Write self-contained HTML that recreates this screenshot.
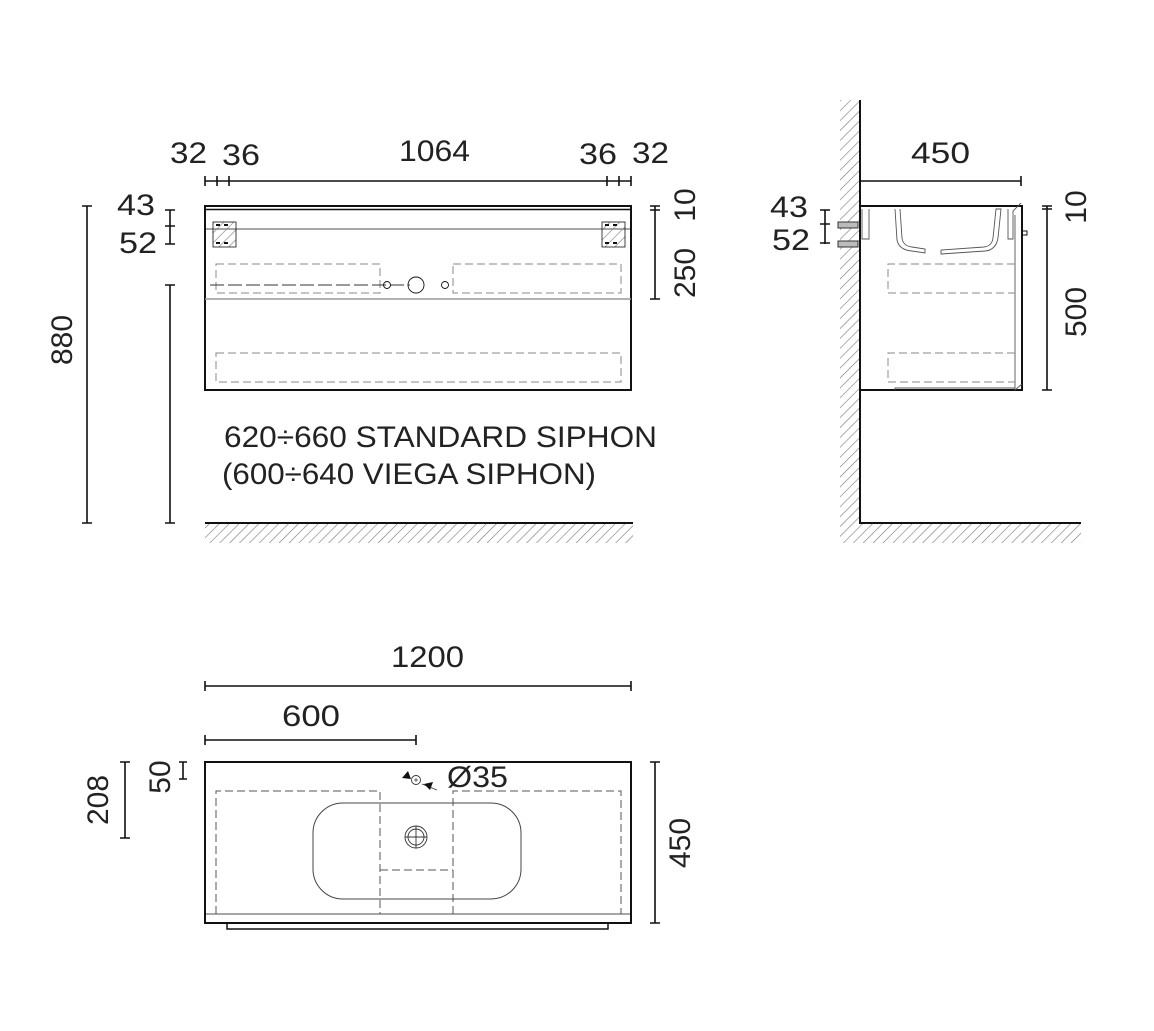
<!DOCTYPE html>
<html><head><meta charset="utf-8"><style>
html,body{margin:0;padding:0;background:#fff;width:1154px;height:1031px;overflow:hidden}
text{font-family:"Liberation Sans",sans-serif;font-size:30px;fill:#222}
</style></head><body>
<svg width="1154" height="1031" viewBox="0 0 1154 1031" xmlns="http://www.w3.org/2000/svg">
<defs>
<pattern id="h" width="7" height="7" patternUnits="userSpaceOnUse" patternTransform="rotate(45)">
<line x1="0" y1="0" x2="0" y2="7" stroke="#777" stroke-width="1.2"/>
</pattern>
</defs>
<g fill="none" stroke="#111" stroke-width="1.6">
<!-- FRONT VIEW -->
<line x1="205" y1="181" x2="631" y2="181"/>
<path d="M205 176v10M217 176v10M229 176v10M607 176v10M619 176v10M631 176v10"/>
<rect x="205" y="206" width="426" height="184" stroke-width="2"/>
<line x1="205" y1="209.5" x2="631" y2="209.5" stroke-width="1.5"/>
<line x1="205" y1="229" x2="631" y2="229" stroke-width="0.8"/>
<line x1="205" y1="299" x2="631" y2="299" stroke="#999" stroke-width="1.5"/>
<g stroke-width="0.8">
<rect x="213" y="222" width="23" height="25" fill="url(#h)"/>
<rect x="602" y="222" width="23" height="25" fill="url(#h)"/>
<path d="M216 225h4M224 225h4M216 243h4M224 243h4M605 225h4M613 225h4M605 243h4M613 243h4" stroke-width="2"/>
</g>
<g stroke="#888" stroke-width="1" stroke-dasharray="8,4">
<rect x="216" y="264" width="164" height="29"/>
<rect x="453" y="264" width="168" height="29"/>
<rect x="216" y="353" width="405" height="29"/>
<line x1="210" y1="285" x2="410" y2="285" stroke="#333" stroke-dasharray="14,4"/>
</g>
<g stroke-width="0.9">
<circle cx="387" cy="285" r="3.5"/><circle cx="416" cy="285" r="8"/><circle cx="445" cy="285" r="3.5"/>
</g>
<!-- left dims -->
<path d="M170 210v34M165 210h10M165 226h10M165 244h10"/>
<path d="M87 206v317M82 206h10M82 523h10"/>
<path d="M170 285v238M165 285h10M165 523h10"/>
<path d="M655 206v93M650 206h10M650 210h10M650 299h10"/>
<!-- floor -->
<line x1="205" y1="523" x2="633" y2="523" stroke-width="2"/>
<rect x="205" y="524" width="428" height="19" fill="url(#h)" stroke="none"/>
<!-- SIDE VIEW -->
<rect x="840" y="100" width="19" height="443" fill="url(#h)" stroke="none"/>
<rect x="859" y="524" width="222" height="19" fill="url(#h)" stroke="none"/>
<path d="M860 100v423h221" stroke-width="2"/>
<path d="M860 181h161M1021 176v10"/>
<path d="M860 206h162v184h-162" stroke-width="2"/>
<g stroke-width="0.9" stroke="#555">
<path d="M862 209v30h7v-30"/>
<path d="M895 209L897 240Q899 250 912 251L925 253L925 249L912 247Q903 246 902 238L900 209"/>
<path d="M941 254L985 251Q996 250 998 238L1001 209L996 209L993 238Q992 246 984 247L941 250Z"/>
<path d="M1008 209v30h5v-28l8-8"/>
<path d="M1015 215v175l7 -6"/>
<path d="M895 390v-2h120"/>
</g>
<g stroke="#888" stroke-width="1" stroke-dasharray="8,4">
<path d="M1015 264h-127v29h127M1015 353h-127v29h127"/>
</g>
<rect x="838" y="222" width="20" height="6" fill="#bbb" stroke="#333" stroke-width="1"/>
<rect x="838" y="241" width="20" height="6" fill="#bbb" stroke="#333" stroke-width="1"/>
<rect x="1022" y="231" width="5" height="4" stroke-width="1"/>
<path d="M825 210v34M820 210h10M820 224h10M820 243h10"/>
<path d="M1047 206v184M1042 206h10M1042 209h10M1042 390h10"/>
<!-- TOP VIEW -->
<path d="M205 686h426M205 681v10M631 681v10"/>
<path d="M205 740h211M205 735v10M416 735v10"/>
<path d="M125 762v76M120 762h10M120 838h10"/>
<path d="M183 762v17M179 762h8M179 779h8"/>
<path d="M655 762v161M650 762h10M650 923h10"/>
<rect x="205" y="762" width="426" height="161" stroke-width="2"/>
<line x1="205" y1="914" x2="631" y2="914" stroke-width="0.8"/>
<path d="M227 923v6h381v-6" stroke-width="1.5"/>
<g stroke="#555" stroke-width="1" stroke-dasharray="8,4">
<path d="M216 914v-123h164v123M453 914v-123h168v123M380 870h73"/>
</g>
<rect x="313" y="803" width="208" height="96" rx="30" stroke="#444" stroke-width="1"/>
<g stroke-width="0.9" stroke="#333">
<circle cx="416" cy="837" r="11"/><circle cx="416" cy="837" r="8"/>
<path d="M405 837h22M416 826v22"/>
<circle cx="416" cy="780" r="4.5"/><path d="M414 780h4M416 778v4" stroke-width="0.7"/>
<path d="M422 784l15 6"/>
</g>
<path d="M402 778l6-7 3 8z" fill="#111" stroke="none"/>
<path d="M424 784l9-2-3 8z" fill="#111" stroke="none"/>
</g>
<!-- TEXT -->
<text x="170" y="163" textLength="37" lengthAdjust="spacingAndGlyphs">32</text>
<text x="222" y="165" textLength="38" lengthAdjust="spacingAndGlyphs">36</text>
<text x="399" y="161" textLength="71" lengthAdjust="spacingAndGlyphs">1064</text>
<text x="579" y="164" textLength="38" lengthAdjust="spacingAndGlyphs">36</text>
<text x="632" y="163" textLength="37" lengthAdjust="spacingAndGlyphs">32</text>
<text x="117" y="215" textLength="38" lengthAdjust="spacingAndGlyphs">43</text>
<text x="119" y="253" textLength="38" lengthAdjust="spacingAndGlyphs">52</text>
<text transform="translate(72,340) rotate(-90)" text-anchor="middle">880</text>
<text transform="translate(695,205) rotate(-90)" text-anchor="middle">10</text>
<text transform="translate(695,273) rotate(-90)" text-anchor="middle">250</text>
<text x="224" y="447" textLength="433" lengthAdjust="spacingAndGlyphs">620÷660 STANDARD SIPHON</text>
<text x="222" y="484" textLength="374" lengthAdjust="spacingAndGlyphs">(600÷640 VIEGA SIPHON)</text>
<text x="911" y="163" textLength="59" lengthAdjust="spacingAndGlyphs">450</text>
<text x="770" y="217" textLength="38" lengthAdjust="spacingAndGlyphs">43</text>
<text x="772" y="250" textLength="38" lengthAdjust="spacingAndGlyphs">52</text>
<text transform="translate(1086,207) rotate(-90)" text-anchor="middle">10</text>
<text transform="translate(1086,312) rotate(-90)" text-anchor="middle">500</text>
<text x="391" y="667" textLength="73" lengthAdjust="spacingAndGlyphs">1200</text>
<text x="282" y="726" textLength="58" lengthAdjust="spacingAndGlyphs">600</text>
<text transform="translate(108,800) rotate(-90)" text-anchor="middle">208</text>
<text transform="translate(170,777) rotate(-90)" text-anchor="middle">50</text>
<text transform="translate(690,843) rotate(-90)" text-anchor="middle">450</text>
<text x="447" y="787" textLength="61" lengthAdjust="spacingAndGlyphs">Ø35</text>
</svg>
</body></html>
